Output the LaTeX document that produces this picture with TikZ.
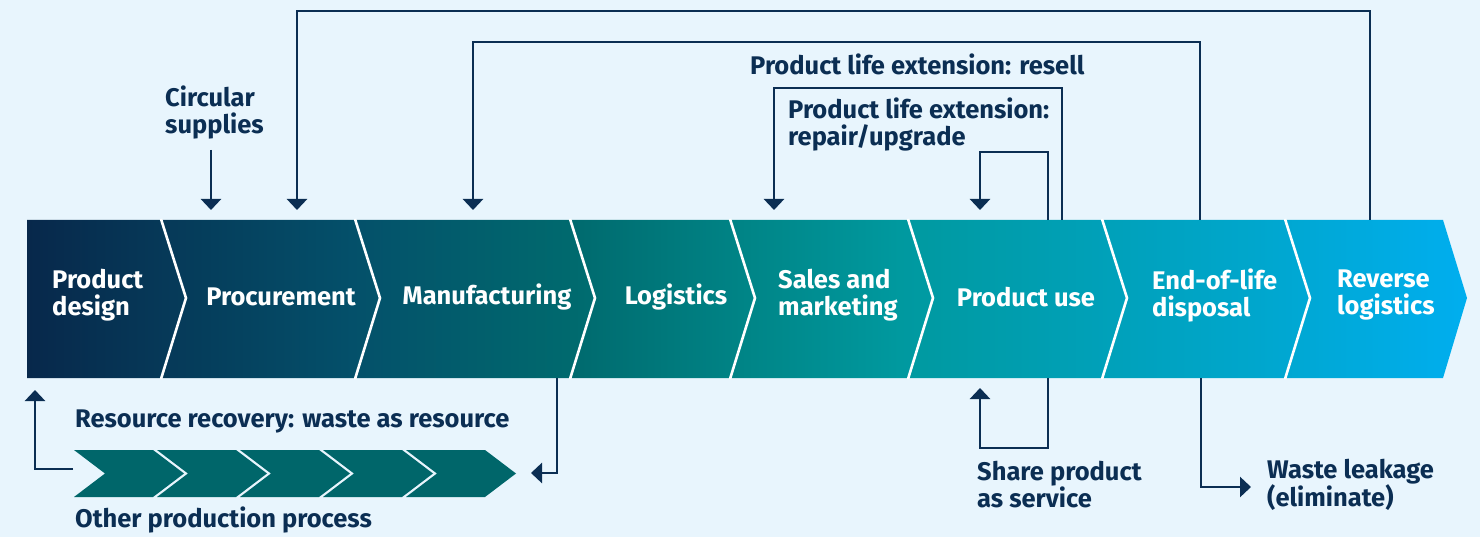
\documentclass[tikz,border=0pt]{standalone}
\usepackage{fontspec}
\setmainfont{Fira Sans}
\usetikzlibrary{arrows.meta}
\definecolor{bg}{HTML}{E8F5FD}
\definecolor{navy}{HTML}{0B2E53}
\definecolor{tealdark}{HTML}{00666A}
\definecolor{c0}{HTML}{07284B}
\definecolor{c1}{HTML}{04506A}
\definecolor{c2}{HTML}{006A6E}
\definecolor{c3}{HTML}{008587}
\definecolor{c4}{HTML}{00999F}
\definecolor{c5}{HTML}{00A6CC}
\definecolor{c6}{HTML}{00AEEF}
\pgfdeclarehorizontalshading{bandshade}{100bp}{color(0bp)=(c0); color(25bp)=(c0); color(36.3bp)=(c1); color(44bp)=(c2); color(50bp)=(c3); color(55.3bp)=(c4); color(67.5bp)=(c5); color(75bp)=(c6); color(100bp)=(c6)}
\tikzset{
	flow/.style={draw=navy, line width=2.6pt, -{Triangle[width=20pt,length=11pt]}},
	stage/.style={text=white, font=\bfseries\fontsize{25.5}{27}\selectfont, inner sep=0pt, align=left},
	note/.style={text=navy, font=\bfseries\fontsize{25.5}{27}\selectfont, inner sep=0pt, align=left, anchor=west},
	sep/.style={draw=white, line width=2.6pt}
}

\begin{document}
\begin{tikzpicture}[x=1pt, y=-1pt]
	\fill[bg] (0,0) rectangle (1480,537);
	\useasboundingbox (0,0) rectangle (1480,537);

	% main band
	\shade[shading=bandshade] (27,220) -- (1443,220) -- (1467,298) -- (1443,378) -- (27,378) -- cycle;
	\foreach \x in {161,355,570,730,908,1102,1285}
		\draw[sep] (\x,219) -- (\x+25,298) -- (\x,379);

	\node[stage, anchor=west] (design) at (52,295) {Product\\design};
	\node[stage] (proc) at (281,297) {Procurement};
	\node[stage] (manu) at (487,297) {Manufacturing};
	\node[stage] (logi) at (676,297) {Logistics};
	\node[stage, anchor=west] (sales) at (778,295) {Sales and\\marketing};
	\node[stage] (use) at (1026,297) {Product use};
	\node[stage, anchor=west] (eol) at (1152,295) {End-of-life\\disposal};
	\node[stage, anchor=west] (rev) at (1337,295) {Reverse\\logistics};

	% other production process
	\foreach \i in {0,...,4}
		\fill[tealdark] ({74+83*\i},450) -- ++(79,0) -- ++(31,23.5) -- ++(-31,23.5) -- ++(-79,0) -- ++(31,-23.5) -- cycle;

	% labels
	\node[note] (circ) at (165,112) {Circular\\supplies};
	\node[note] (resell) at (750,64) {Product life extension: resell};
	\node[note] (repair) at (788,124) {Product life extension:\\repair/upgrade};
	\node[note] (share) at (977,485) {Share product\\as service};
	\node[note] (waste) at (1267,485) {Waste leakage\\(eliminate)};
	\node[note] (recov) at (75,421) {Resource recovery: waste as resource};
	\node[note] (other) at (75,520) {Other production process};

	% connector end points
	\coordinate (circ-out) at (211,150);
	\coordinate (circ-in) at (211,210);
	\coordinate (proc-in) at (297,210);
	\coordinate (manu-in) at (473,210);
	\coordinate (sales-in) at (774,210);
	\coordinate (use-in) at (980,210);
	\coordinate (use-in2) at (980,388);
	\coordinate (design-in) at (35,390);
	\coordinate (rev-out) at (1370,220);
	\coordinate (eol-out) at (1200,220);
	\coordinate (eol-down) at (1201,378);
	\coordinate (use-out) at (1062,220);
	\coordinate (use-out2) at (1048,220);
	\coordinate (use-down) at (1048,378);
	\coordinate (manu-down) at (557,378);
	\coordinate (other-in) at (531,473);
	\coordinate (other-out) at (73,469);
	\coordinate (waste-in) at (1251,487);

	\draw[flow] (circ-out) -- (circ-in);
	\draw[flow] (rev-out) -- (1370,11) -| (proc-in);
	\draw[flow] (eol-out) -- (1200,42) -| (manu-in);
	\draw[flow] (use-out) -- (1062,88) -| (sales-in);
	\draw[flow] (use-out2) -- (1048,152) -| (use-in);
	\draw[flow] (use-down) -- (1048,448) -| (use-in2);
	\draw[flow] (eol-down) |- (waste-in);
	\draw[flow] (manu-down) |- (other-in);
	\draw[flow] (other-out) -| (design-in);
\end{tikzpicture}
\end{document}
